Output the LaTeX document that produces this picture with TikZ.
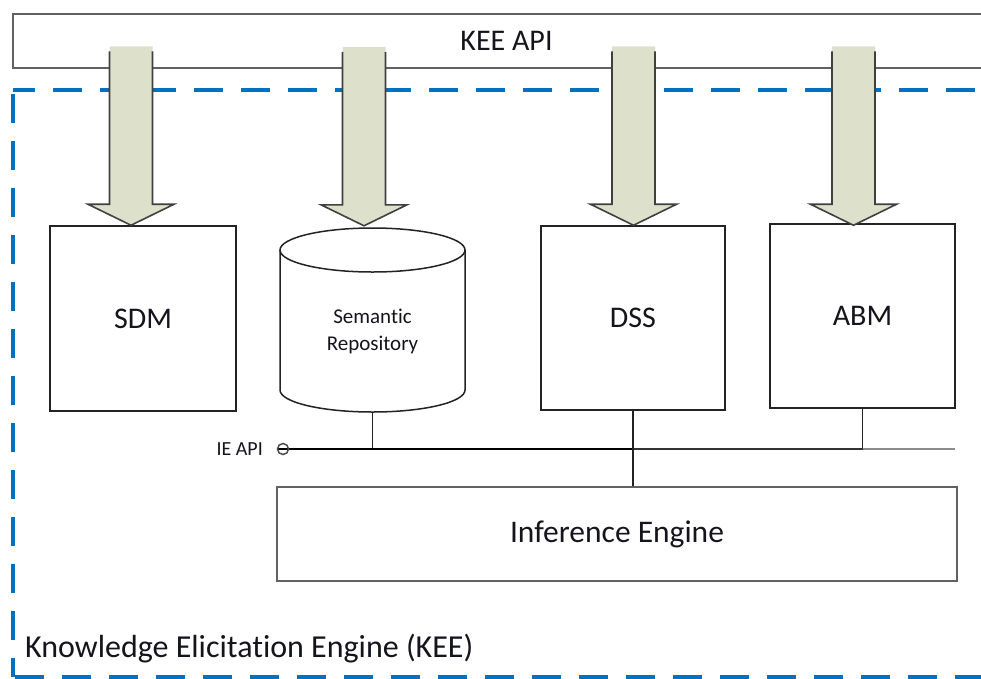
\documentclass[tikz,border=0pt]{standalone}
\usepackage{fontspec}
\setmainfont[Ligatures={NoCommon}]{Carlito}
\usetikzlibrary{calc}
\definecolor{keeblue}{RGB}{0,112,192}
\definecolor{arrowfill}{RGB}{221,224,203}
\definecolor{txt}{RGB}{20,20,28}
\definecolor{edge}{RGB}{35,35,35}

\tikzset{
  bigtext/.style={font=\fontsize{30}{36}\selectfont, text=txt},
  box/.style={draw=edge, line width=1.5pt, rectangle, inner sep=0pt, bigtext},
  greybox/.style={draw=black!62, line width=2pt, rectangle, inner sep=0pt, bigtext},
  conn/.style={draw=edge, line width=1.5pt},
  arrowline/.style={draw=black!75, line width=1.6pt, line join=miter},
  frame/.style={draw=keeblue, line width=4pt, dash pattern=on 29pt off 18pt},
  downarrow/.pic={
    \fill[arrowfill] (-21.5,-179) -- (-21.5,-21) -- (-43,-21) -- (0,0)
      -- (43,-21) -- (21.5,-21) -- (21.5,-179) -- cycle;
    \draw[arrowline] (-21.5,-174) -- (-21.5,-21) -- (-43,-21) -- (0,0)
      -- (43,-21) -- (21.5,-21) -- (21.5,-174);
  }
}

\begin{document}
\begin{tikzpicture}[x=1pt, y=-1pt]
\useasboundingbox (0,0) rectangle (981,678);

% API bar across the top
\node[greybox, minimum width=987pt, minimum height=54pt] (keeapi) at (506.5,41) {KEE API};

% dashed boundary of the elicitation engine
\coordinate (fc) at (13,90);
\draw[frame, dash phase=7pt] (fc) -- (1000,90);
\draw[frame, dash phase=-4pt] (fc) -- (13,677) coordinate (fbl);
\draw[frame, dash phase=-2pt] (fbl) -- (1000,677);

% components
\node[box, minimum width=186pt, minimum height=185pt] (sdm) at (143,318.5) {SDM};
\node[box, minimum width=184pt, minimum height=184pt] (dss) at (633,318) {DSS};
\node[box, minimum width=185pt, minimum height=184pt] (abm) at (862.5,316) {ABM};
\node[greybox, minimum width=680pt, minimum height=94pt, font=\fontsize{31.5}{38}\selectfont] (inf) at (617,534) {Inference Engine};

% semantic repository drawn as a cylinder
\node[inner sep=0pt, minimum width=185pt, minimum height=184pt] (repo) at (372.5,320) {};
\draw[conn] (280,250) -- (280,390) arc[start angle=180, end angle=360, x radius=92.5pt, y radius=22pt] -- (465,250);
\draw[conn] (372.5,250) ellipse[x radius=92.5pt, y radius=22pt];
\node[align=center, font=\fontsize{21}{27}\selectfont, text=txt] (repotext) at (372.5,331) {Semantic\\Repository};

% block arrows from the API bar
\coordinate (t1) at ($(sdm.north)+(-12,0)$);
\coordinate (t2) at ($(repo.north)+(-8.5,-2)$);
\coordinate (t3) at ($(dss.north)+(0.5,0)$);
\coordinate (t4) at ($(abm.north)+(-9,2)$);
\pic at (t1) {downarrow};
\pic at (t2) {downarrow};
\pic at (t3) {downarrow};
\pic at (t4) {downarrow};

% IE API bus
\coordinate (ieapi) at (283,449);
\coordinate (busend) at (955,449);
\draw[conn] (repo.south) -- (repo.south |- ieapi);
\draw[conn] (abm.south) -- (abm.south |- ieapi);
\draw[black, line width=2.6pt] ($(ieapi)+(-5,0)$) -- (dss.south |- ieapi);
\draw[black!80, line width=2pt] (dss.south |- ieapi) -- (abm.south |- ieapi);
\draw[black!45, line width=2pt] (abm.south |- ieapi) -- (busend);
\draw[conn] (dss.south) -- (dss.south |- inf.north);
\draw[draw=black!70, line width=1.5pt] (ieapi) circle[radius=5.5pt];
\node[anchor=east, inner sep=0pt, font=\fontsize{20}{24}\selectfont, text=txt] (ielabel) at ($(ieapi)+(-20,0)$) {IE API};

% engine caption
\node[anchor=base west, inner sep=0pt, font=\fontsize{32}{38}\selectfont, text=txt] (keelabel) at (25,657) {Knowledge Elicitation Engine (KEE)};
\end{tikzpicture}
\end{document}
